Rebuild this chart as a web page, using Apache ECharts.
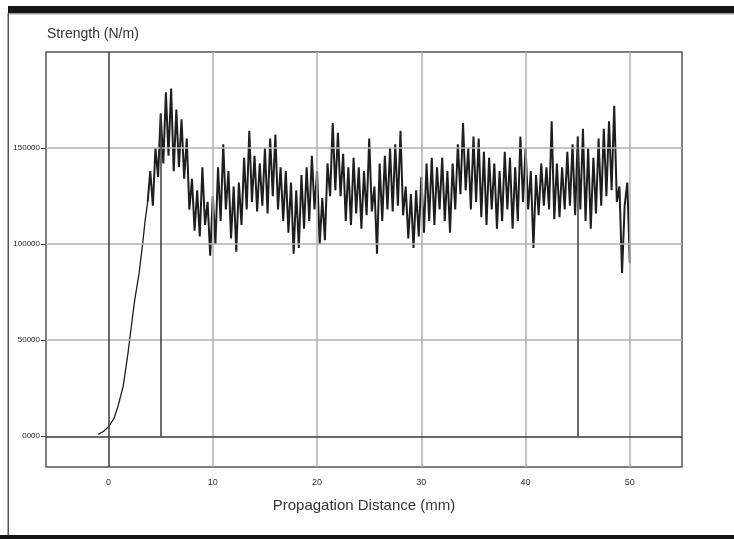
<!DOCTYPE html>
<html>
<head>
<meta charset="utf-8">
<script src="https://cdn.jsdelivr.net/npm/echarts@6/dist/echarts.min.js"></script>
<style>html,body{margin:0;padding:0;background:#fff}#c{width:734px;height:539px}</style>
</head>
<body>
<div id="c"></div>
<script>
// Ramp at the start of the test: [distance mm, strength kN/m]
const rampPoints = [[-1.0,1],[-0.5,2.5],[0,5],[0.5,9],[0.9,15.5],[1.4,26],[1.86,43],[2.18,57],[2.5,70.6],[2.92,84.5],[3.3,101.6],[3.5,112],[3.75,122]];
// Noisy propagation part, sampled every 0.25 mm from 3.75 mm (kN/m)
const noiseStart = 3.75;
const noiseStep = 0.25;
const noiseValues = [
 122,
 138,120,150,135, 168,142,179,146, 181,138,170,140, 165,134,155,118,
 134,107,128,104, 140,110,122,94, 125,100,140,112, 152,118,138,103,
 130,96,132,110, 145,118,159,122, 146,117,142,120, 150,116,155,125,
 157,118,140,112, 138,106,132,95, 128,98,136,108, 140,112,146,118,
 138,100,124,102, 142,125,163,128, 158,125,147,112, 140,110,145,116,
 140,108,138,115, 155,117,130,95, 142,112,146,118, 150,117,152,120,
 159,115,130,103, 126,98,128,104, 135,106,142,112, 145,110,140,118,
 145,112,138,106, 142,118,152,126, 163,128,150,118, 156,122,155,114,
 148,110,145,118, 142,108,138,112, 148,118,145,108, 140,112,156,122,
 150,118,138,98, 136,115,142,120, 140,118,164,113, 142,114,140,118,
 148,120,152,115, 156,118,160,112, 150,108,145,116, 155,120,160,125,
 164,128,172,122, 130,85,120,132, 90
];
// Cursor markers (mm) and the strength where they meet the curve (kN/m)
const cursorX = [5, 45];
const cursorTop = [168, 156];
const xTicks = [0, 10, 20, 30, 40, 50];
const yTicks = [0, 50000, 100000, 150000];
const yTickLabels = ['0000', '50000', '100000', '150000'];

const rampData = rampPoints.map(p => [p[0], p[1] * 1000]);
const noiseData = noiseValues.map((v, i) => [noiseStart + i * noiseStep, v * 1000]);

const gridLineStyle = {color: '#b0b0b0', width: 1.5, type: 'solid'};
const darkLineStyle = {color: '#3a3a3a', width: 1.5, type: 'solid'};

const gridMarks = xTicks.filter(v => v !== 0).map(v => ({xAxis: v, lineStyle: gridLineStyle}))
  .concat(yTicks.filter(v => v !== 0).map(v => ({yAxis: v, lineStyle: gridLineStyle})));
const darkMarks = [{xAxis: 0, lineStyle: darkLineStyle}, {yAxis: 0, lineStyle: darkLineStyle}]
  .concat(cursorX.map((x, i) => [{coord: [x, 0], lineStyle: darkLineStyle}, {coord: [x, cursorTop[i] * 1000]}]));

const chart = echarts.init(document.getElementById('c'), null, {renderer: 'canvas'});
const font = '"Liberation Sans", Arial, sans-serif';
chart.setOption({
  animation: false,
  backgroundColor: '#fff',
  textStyle: {fontFamily: font},
  graphic: [
    {type: 'rect', shape: {x: 8, y: 6, width: 726, height: 7}, style: {fill: '#141414'}, silent: true},
    {type: 'rect', shape: {x: 8, y: 13, width: 726, height: 1.5}, style: {fill: '#9a9a9a'}, silent: true},
    {type: 'rect', shape: {x: 7.5, y: 13, width: 1.5, height: 523}, style: {fill: '#555'}, silent: true},
    {type: 'rect', shape: {x: 0, y: 535, width: 734, height: 4}, style: {fill: '#141414'}, silent: true}
  ],
  grid: {left: 46, top: 52, right: 52, bottom: 72, show: true, borderColor: '#555', borderWidth: 1.5, backgroundColor: 'transparent'},
  xAxis: {
    type: 'value', min: -6, max: 55,
    name: 'Propagation Distance (mm)', nameLocation: 'middle', nameGap: 31,
    nameTextStyle: {fontSize: 15, color: '#333', fontFamily: font},
    axisLine: {show: false, onZero: false}, axisTick: {show: false}, splitLine: {show: false},
    axisLabel: {customValues: xTicks, fontSize: 9, color: '#333', margin: 11, fontFamily: font}
  },
  yAxis: {
    type: 'value', min: -16000, max: 200000,
    name: 'Strength (N/m)', nameLocation: 'end', nameGap: 11,
    nameTextStyle: {fontSize: 14, color: '#333', align: 'left', fontFamily: font, padding: [0, 0, 0, 1]},
    axisLine: {show: false, onZero: false}, splitLine: {show: false},
    axisTick: {show: true, customValues: yTicks, length: 5, lineStyle: {color: '#444', width: 1}},
    axisLabel: {customValues: yTicks, fontSize: 8, color: '#222', margin: 6, fontFamily: font,
      formatter: v => yTickLabels[yTicks.indexOf(v)]}
  },
  series: [
    {type: 'line', z: 1, silent: true, data: [[-6, -16000]], symbol: 'none', lineStyle: {opacity: 0},
     markLine: {silent: true, symbol: 'none', label: {show: false}, animation: false, data: gridMarks}},
    {type: 'line', z: 2, silent: true, data: [[-6, -16000]], symbol: 'none', lineStyle: {opacity: 0},
     markLine: {silent: true, symbol: 'none', label: {show: false}, animation: false, data: darkMarks}},
    {type: 'line', z: 3, data: rampData, symbol: 'none', lineStyle: {color: '#1e1e1e', width: 1.3}},
    {type: 'line', z: 3, data: noiseData, symbol: 'none', lineStyle: {color: '#1e1e1e', width: 2}}
  ]
});
</script>
</body>
</html>
